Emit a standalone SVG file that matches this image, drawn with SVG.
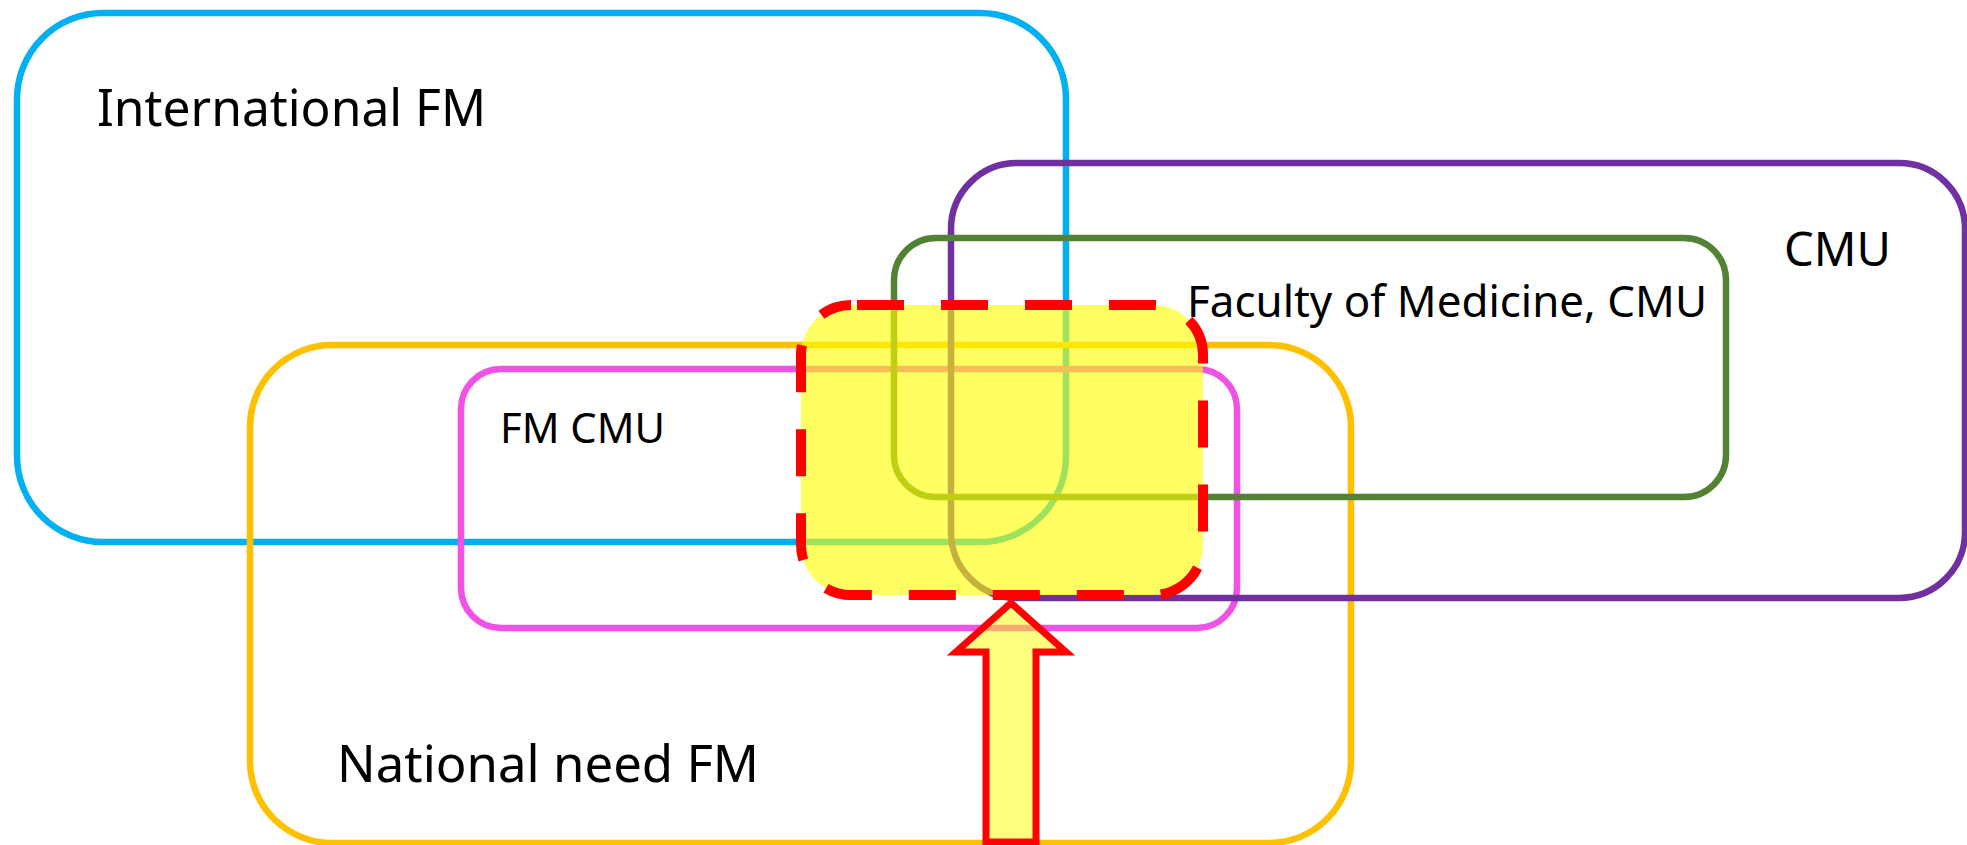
<svg xmlns="http://www.w3.org/2000/svg" width="1967" height="845" viewBox="0 0 1967 845">
  <style>
    .box { fill: none; stroke-width: 6.5; }
    .lbl { font-family: "Noto Sans", "Open Sans", sans-serif; fill: #000000; }
    .focus-fill { fill: #FFFF00; fill-opacity: 0.62; stroke: none; }
    .focus-line { fill: none; stroke: #FF0000; stroke-width: 10; stroke-dasharray: 47 37; stroke-dashoffset: -6; }
    .arrow { fill: #FFFF00; fill-opacity: 0.5; stroke: #FF0000; stroke-width: 7; stroke-linejoin: miter; stroke-miterlimit: 10; }
  </style>
  <rect width="1967" height="845" fill="#FFFFFF"/>

  <g id="international-fm">
    <rect class="box" x="17" y="13" width="1049" height="529" rx="86" ry="86" stroke="#00B0F0"/>
    <text class="lbl" x="97" y="126" font-size="51" textLength="389" lengthAdjust="spacingAndGlyphs">International FM</text>
  </g>

  <g id="national-need-fm">
    <rect class="box" x="250" y="345" width="1101" height="498" rx="82" ry="82" stroke="#FFC000"/>
    <text class="lbl" x="337" y="782" font-size="51" textLength="422" lengthAdjust="spacingAndGlyphs">National need FM</text>
  </g>

  <g id="fm-cmu">
    <rect class="box" x="461" y="369" width="776" height="259" rx="40" ry="40" stroke="#F052E6"/>
    <text class="lbl" x="500" y="443" font-size="42" textLength="165" lengthAdjust="spacingAndGlyphs">FM CMU</text>
  </g>

  <g id="cmu">
    <rect class="box" x="951" y="163" width="1014" height="435" rx="66" ry="66" stroke="#7030A0"/>
    <text class="lbl" x="1784" y="266" font-size="47" textLength="107" lengthAdjust="spacingAndGlyphs">CMU</text>
  </g>

  <g id="faculty-of-medicine">
    <rect class="box" x="894" y="238" width="832" height="259" rx="42" ry="42" stroke="#548235"/>
    <text class="lbl" x="1187" y="317" font-size="44" textLength="520" lengthAdjust="spacingAndGlyphs">Faculty of Medicine, CMU</text>
  </g>

  <g id="focus-area">
    <rect class="focus-fill" x="801" y="305" width="402" height="290" rx="50" ry="50"/>
    <rect class="focus-line" x="801" y="305" width="402" height="290" rx="50" ry="50"/>
  </g>

  <g id="connectors">
    <polygon class="arrow" points="1011,603 1066,652 1036,652 1036,842 986,842 986,652 956,652"/>
  </g>
</svg>
